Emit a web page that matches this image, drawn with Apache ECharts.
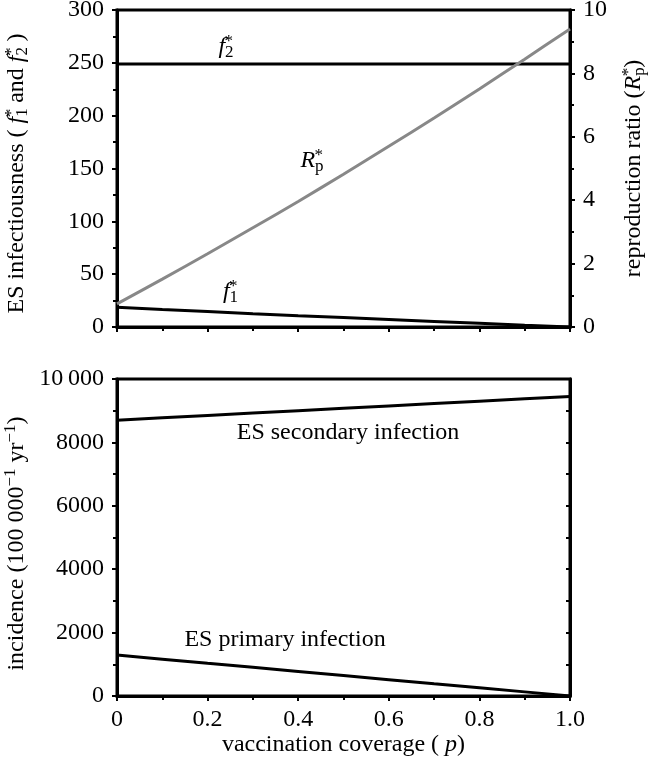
<!DOCTYPE html>
<html>
<head>
<meta charset="utf-8">
<script src="https://cdn.jsdelivr.net/npm/echarts@6/dist/echarts.min.js"></script>
<style>
  html, body { margin: 0; padding: 0; background: #fff; }
  #chart { width: 648px; height: 765px; }
</style>
</head>
<body>
<div id="chart"></div>
<script>
// vaccination coverage p
const coverage = [0, 0.1, 0.2, 0.3, 0.4, 0.5, 0.6, 0.7, 0.8, 0.9, 1.0];
// top panel: ES infectiousness (left axis) and reproduction ratio (right axis)
const f2Star = [249, 249, 249, 249, 249, 249, 249, 249, 249, 249, 249];
const f1Star = [18.8, 16.6, 14.6, 12.6, 10.7, 8.9, 7.1, 5.3, 3.5, 1.7, 0];
const rpStar = [0.73, 1.51, 2.31, 3.13, 3.96, 4.82, 5.70, 6.59, 7.51, 8.45, 9.40];
// bottom panel: incidence per 100 000 per year
const secondaryInc = [8700, 8775, 8850, 8925, 9000, 9075, 9150, 9225, 9300, 9375, 9450];
const primaryInc = [1290, 1160, 1030, 905, 775, 645, 515, 385, 260, 130, 0];

// curve labels: [p, value, text]
const topLabels = [[0.24, 265, '{i|f}{sub|2}{over|*}'], [0.25, 33, '{i|f}{sub|1}{over|*}']];
const rpLabel = [[0.43, 5.25, '{i|R}{sub|p}{over|*}']];
const bottomLabels = [[0.51, 8300, 'ES secondary infection'], [0.371, 1770, 'ES primary infection']];

const FONT = 'Liberation Serif';
const FS = 24;
const rich = {
  i: { fontFamily: FONT, fontSize: FS, fontStyle: 'italic', color: '#000', lineHeight: 28 },
  n: { fontFamily: FONT, fontSize: FS, color: '#000', lineHeight: 28 },
  sub: { fontFamily: FONT, fontSize: 17, color: '#000', verticalAlign: 'bottom', lineHeight: 17 },
  sup: { fontFamily: FONT, fontSize: 17, color: '#000', verticalAlign: 'top', lineHeight: 17 },
  over: { fontFamily: FONT, fontSize: 17, color: '#000', verticalAlign: 'top', lineHeight: 17, padding: [0, 0, 0, -9] }
};

const zip = (ys) => coverage.map((x, i) => [x, ys[i]]);

const chart = echarts.init(document.getElementById('chart'), null, { renderer: 'canvas' });

const axisLine = { show: true, lineStyle: { color: '#000', width: 3 } };
const axisLabel = { color: '#000', fontFamily: FONT, fontSize: FS };
const tick = { show: true, length: 5, lineStyle: { color: '#000', width: 2 } };
const minor = { show: true, splitNumber: 2, length: 4, lineStyle: { color: '#000', width: 2 } };
const pFmt = (v) => (v === 0 ? '0' : v.toFixed(1));
const labelOf = (p) => p.name;

const option = {
  animation: false,
  backgroundColor: '#fff',
  grid: [
    { left: 117, right: 78, top: 10, height: 317, outerBoundsMode: 'none', show: true, borderColor: '#000', borderWidth: 3 },
    { left: 117, right: 78, top: 379, height: 317, outerBoundsMode: 'none', show: true, borderColor: '#000', borderWidth: 3 }
  ],
  xAxis: [
    {
      gridIndex: 0, type: 'value', min: 0, max: 1, interval: 0.2,
      axisLine, axisTick: tick, minorTick: minor,
      axisLabel: { show: false }, splitLine: { show: false }
    },
    {
      gridIndex: 1, type: 'value', min: 0, max: 1, interval: 0.2,
      axisLine, axisTick: tick, minorTick: minor,
      axisLabel: { ...axisLabel, margin: 12, formatter: pFmt },
      splitLine: { show: false },
      name: '{n|vaccination coverage ( }{i|p}{n|)}',
      nameLocation: 'middle', nameGap: 35,
      nameTextStyle: { rich }
    }
  ],
  yAxis: [
    {
      gridIndex: 0, type: 'value', min: 0, max: 300, interval: 50,
      axisLine, axisTick: tick, minorTick: minor,
      axisLabel: { ...axisLabel, margin: 13 }, splitLine: { show: false },
      name: '{n|ES infectiousness ( }{i|f}{sub|1}{over|*}{n| and }{i|f}{sub|2}{over|*}{n| )}',
      nameLocation: 'middle', nameGap: 86, nameRotate: 90,
      nameTextStyle: { rich, padding: [0, 10, 0, 0] }
    },
    {
      gridIndex: 0, type: 'value', min: 0, max: 10, interval: 2, position: 'right',
      axisLine, axisTick: tick, minorTick: minor,
      axisLabel: { ...axisLabel, margin: 13 }, splitLine: { show: false },
      name: '{n|reproduction ratio (}{i|R}{sub|p}{over|*}{n|)}',
      nameLocation: 'middle', nameGap: 50, nameRotate: 90,
      nameTextStyle: { rich }
    },
    {
      gridIndex: 1, type: 'value', min: 0, max: 10000, interval: 2000,
      axisLine, axisTick: tick, minorTick: minor,
      axisLabel: { ...axisLabel, margin: 13, formatter: (v) => (v === 10000 ? '10\u2009000' : String(v)) },
      splitLine: { show: false },
      name: '{n|incidence (100 000}{sup|\u22121}{n| yr}{sup|\u22121}{n|)}',
      nameLocation: 'middle', nameGap: 86, nameRotate: 90,
      nameTextStyle: { rich, padding: [0, 12, 0, 0] }
    },
    {
      gridIndex: 1, type: 'value', min: 0, max: 10000, interval: 1000, position: 'right',
      axisLine, axisTick: { show: true, inside: true, length: 4, lineStyle: { color: '#000', width: 2 } },
      axisLabel: { show: false }, splitLine: { show: false }
    }
  ],
  series: [
    {
      type: 'line', xAxisIndex: 0, yAxisIndex: 0, data: zip(f2Star), showSymbol: false,
      lineStyle: { color: '#000', width: 3 }
    },
    {
      type: 'line', xAxisIndex: 0, yAxisIndex: 0, data: zip(f1Star), showSymbol: false,
      lineStyle: { color: '#000', width: 3 }
    },
    {
      type: 'line', xAxisIndex: 0, yAxisIndex: 1, data: zip(rpStar), showSymbol: false, smooth: 0.3,
      lineStyle: { color: '#888', width: 3 }
    },
    {
      type: 'line', xAxisIndex: 1, yAxisIndex: 2, data: zip(secondaryInc), showSymbol: false,
      lineStyle: { color: '#000', width: 3 }
    },
    {
      type: 'line', xAxisIndex: 1, yAxisIndex: 2, data: zip(primaryInc), showSymbol: false,
      lineStyle: { color: '#000', width: 3 }
    },
    {
      type: 'scatter', xAxisIndex: 0, yAxisIndex: 0, symbolSize: 0, itemStyle: { opacity: 1 },
      data: topLabels.map((d) => ({ value: [d[0], d[1]], name: d[2] })),
      label: { show: true, position: 'inside', formatter: labelOf, color: '#000', rich }
    },
    {
      type: 'scatter', xAxisIndex: 0, yAxisIndex: 1, symbolSize: 0, itemStyle: { opacity: 1 },
      data: rpLabel.map((d) => ({ value: [d[0], d[1]], name: d[2] })),
      label: { show: true, position: 'inside', formatter: labelOf, color: '#000', rich }
    },
    {
      type: 'scatter', xAxisIndex: 1, yAxisIndex: 2, symbolSize: 0, itemStyle: { opacity: 1 },
      data: bottomLabels.map((d) => ({ value: [d[0], d[1]], name: d[2] })),
      label: { show: true, position: 'inside', formatter: labelOf, color: '#000', fontFamily: FONT, fontSize: FS }
    }
  ]
};

chart.setOption(option);
</script>
</body>
</html>
